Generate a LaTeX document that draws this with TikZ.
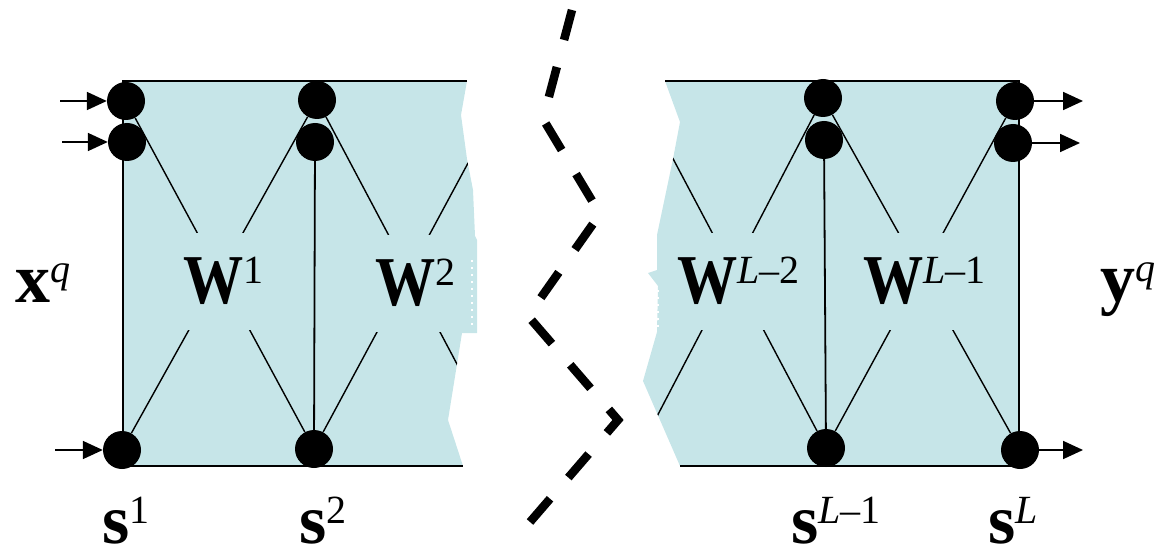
\documentclass[tikz,border=0pt]{standalone}
\usepackage{fontspec}
\setmainfont{Liberation Serif}
\usetikzlibrary{arrows.meta}
\definecolor{panelblue}{RGB}{198,229,232}
\newcommand{\layerup}[1]{\raisebox{20pt}{\fontsize{40}{40}\selectfont\mdseries\upshape #1}}
\newcommand{\narrowW}{\scalebox{0.86}[1]{W}}
\def\leftpanel{(123,81) -- (467,81) -- (461,115) -- (467,159) -- (473,190) -- (475,236) -- (477,240) -- (477,333) -- (462,333) -- (448,420) -- (463,466) -- (123,466) -- cycle}
\def\rightpanel{(665,81) -- (1019,81) -- (1019,466) -- (680,466) -- (643,381) -- (657,332) -- (658,286) -- (648,273) -- (657,270) -- (657,235) -- (673,159) -- (680,122) -- cycle}

\begin{document}
\begin{tikzpicture}[
x=1pt, y=-1pt,
dot/.style={
circle,
fill=black,
minimum size=38pt,
inner sep=0pt
},
edge/.style={line width=1.8pt},
wire/.style={line width=1.4pt},
arrow/.style={line width=1.8pt, -{Triangle[length=20pt,width=18pt]}},
plain/.style={
inner sep=0pt,
anchor=base west,
font=\fontsize{70}{70}\selectfont\bfseries
},
wlabel/.style={
plain,
fill=panelblue,
text height=70pt,
text depth=27pt
}
]
\useasboundingbox (0,0) rectangle (1155,553);

% the two torn panels
\fill[panelblue] \leftpanel;
\fill[panelblue] \rightpanel;
\draw[white, line width=1.5pt, dash pattern=on 2pt off 5pt] (472,260) -- (472,328);
\draw[white, line width=1.5pt, dash pattern=on 2pt off 5pt] (658,290) -- (658,330);

\draw[edge] (467,81) -- (123,81) -- (123,466) -- (463,466);
\draw[edge] (665,81) -- (1019,81) -- (1019,466) -- (680,466);

% neuron columns
\node[dot] (s1a) at (126,101) {};
\node[dot] (s1b) at (127,142) {};
\node[dot] (s1c) at (122,450) {};

\node[dot] (s2a) at (317,100) {};
\node[dot] (s2b) at (315,142) {};
\node[dot] (s2c) at (314,449) {};

\node[dot] (sKa) at (823,98) {};
\node[dot] (sKb) at (824,140) {};
\node[dot] (sKc) at (826,448) {};

\node[dot] (sLa) at (1015,101) {};
\node[dot] (sLb) at (1013,143) {};
\node[dot] (sLc) at (1020,450) {};

% columns hidden behind the tear
\coordinate (s3a) at (502,100);
\coordinate (s3c) at (502,449);
\coordinate (sJa) at (642,100);
\coordinate (sJc) at (640,449);

\draw[edge] (s2b) -- (s2c);
\draw[edge] (sKb) -- (sKc);

\draw[wire] (s1a) -- (s2c);
\draw[wire] (s2a) -- (s1c);
\draw[wire] (sKa) -- (sLc);
\draw[wire] (sLa) -- (sKc);

\begin{scope}
\clip \leftpanel;
\draw[wire] (s2a) -- (s3c);
\draw[wire] (s2c) -- (s3a);
\end{scope}

\begin{scope}
\clip \rightpanel;
\draw[wire] (sJa) -- (sKc);
\draw[wire] (sJc) -- (sKa);
\end{scope}

% weight labels
\node[wlabel] (w1) at (183,303) {\narrowW\layerup{1}};
\node[wlabel] (w2) at (375,305) {\narrowW\layerup{2}};
\node[wlabel] (wK) at (677,303) {\narrowW\layerup{\textit{L}--2}};
\node[wlabel] (wL) at (863,303) {\narrowW\layerup{\textit{L}--1}};

\node[plain] (xq) at (15,302) {x\layerup{\textit{q}}};
\node[plain] (yq) at (1100,301) {y\layerup{\textit{q}}};

\node[plain] (lab1) at (102,543) {s\layerup{1}};
\node[plain] (lab2) at (299,543) {s\layerup{2}};
\node[plain] (labK) at (791,543) {s\layerup{\textit{L}--1}};
\node[plain] (labL) at (988,543) {s\layerup{\textit{L}}};

% inputs and outputs
\coordinate (in1) at (60,101);
\coordinate (in2) at (62,142);
\coordinate (in3) at (55,450);
\coordinate (out1) at (1083,101);
\coordinate (out2) at (1080,143);
\coordinate (out3) at (1083,450);

\draw[arrow] (in1) -- (s1a);
\draw[arrow] (in2) -- (s1b);
\draw[arrow] (in3) -- (s1c);
\draw[arrow] (sLa) -- (out1);
\draw[arrow] (sLb) -- (out2);
\draw[arrow] (sLc) -- (out3);

% break mark
\draw[line width=8.5pt, dash pattern=on 31pt off 28pt]
(572,10) -- (543,119) -- (600,214) -- (528,316) -- (618,420) -- (530,522);

\end{tikzpicture}
\end{document}
